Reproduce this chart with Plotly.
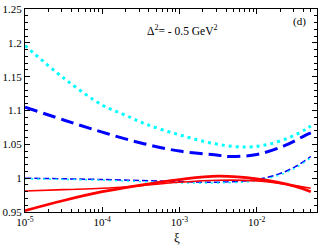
import plotly.graph_objects as go

# log10(xi) sample points
logxi_dotted = [-5.0, -4.5, -4.0, -3.72, -3.44, -3.0, -2.55, -2.15, -1.85, -1.56, -1.37, -1.30]
cyan_dotted = [1.196, 1.148, 1.108, 1.094, 1.080, 1.064, 1.051, 1.046, 1.050, 1.061, 1.072, 1.077]

logxi_long = [-5.0, -4.5, -4.0, -3.5, -3.0, -2.5, -2.36, -2.0, -1.64, -1.36, -1.30]
blue_long = [1.105, 1.086, 1.068, 1.052, 1.040, 1.034, 1.032, 1.035, 1.048, 1.064, 1.067]

logxi_short = [-5.0, -4.0, -3.0, -2.5, -2.0, -1.72, -1.5, -1.3]
blue_short = [1.000, 0.998, 0.995, 0.994, 0.998, 1.006, 1.017, 1.032]
cyan_dashdot = [0.999, 0.997, 0.993, 0.993, 0.996, 1.004, 1.015, 1.030]

logxi_red = [-5.0, -4.5, -4.0, -3.6, -3.0, -2.5, -2.0, -1.5, -1.3]
red_thick = [0.952, 0.967, 0.980, 0.988, 0.998, 1.003, 0.999, 0.988, 0.980]
red_thin = [0.981, 0.983, 0.985, 0.988, 0.994, 0.997, 0.996, 0.989, 0.985]

x_ticks = [1e-5, 1e-4, 1e-3, 1e-2]
x_ticklabels = ["10<sup>-5</sup>", "10<sup>-4</sup>", "10<sup>-3</sup>", "10<sup>-2</sup>"]
y_ticks = [0.95, 1.0, 1.05, 1.1, 1.15, 1.2, 1.25]
y_ticklabels = ["0.95", "1", "1.05", "1.1", "1.15", "1.2", "1.25"]

def tx(lx):
    return [10 ** v for v in lx]

fig = go.Figure()
fig.add_trace(go.Scatter(x=tx(logxi_dotted), y=cyan_dotted, mode="lines", line_shape="spline",
                         line=dict(color="#00FFFF", width=3, dash="3px,4px")))
fig.add_trace(go.Scatter(x=tx(logxi_long), y=blue_long, mode="lines", line_shape="spline",
                         line=dict(color="#0000FF", width=3, dash="13px,6px")))
fig.add_trace(go.Scatter(x=tx(logxi_short), y=blue_short, mode="lines", line_shape="spline",
                         line=dict(color="#0000FF", width=1.5, dash="6px,3px")))
fig.add_trace(go.Scatter(x=tx(logxi_short), y=cyan_dashdot, mode="lines", line_shape="spline",
                         line=dict(color="#00FFFF", width=1.5, dash="2px,4px")))
fig.add_trace(go.Scatter(x=tx(logxi_red), y=red_thin, mode="lines", line_shape="spline",
                         line=dict(color="#FF0000", width=1.6)))
fig.add_trace(go.Scatter(x=tx(logxi_red), y=red_thick, mode="lines", line_shape="spline",
                         line=dict(color="#FF0000", width=2.8)))

font = "Liberation Serif, Times New Roman, serif"
minor_x = []
for d in range(-5, -1):
    for k in range(2, 10):
        v = k * 10 ** d
        if v <= 0.06:
            minor_x.append(v)

fig.update_layout(
    width=321, height=245,
    margin=dict(l=22, r=3, t=5, b=33),
    paper_bgcolor="white", plot_bgcolor="white",
    showlegend=False,
    font=dict(family=font, size=11, color="black"),
    xaxis=dict(type="log", range=[-5, -1.22], tickvals=x_ticks, ticktext=x_ticklabels,
               ticks="inside", ticklen=5, tickcolor="black", showgrid=False, zeroline=False,
               showline=True, linecolor="black", linewidth=1, mirror="ticks",
               tickfont=dict(family=font, size=11), ticklabeloverflow="allow",
               minor=dict(tickvals=minor_x, ticks="inside", ticklen=3, tickcolor="black", showgrid=False)),
    yaxis=dict(range=[0.95, 1.25], tickvals=y_ticks, ticktext=y_ticklabels,
               ticks="inside", ticklen=5, tickcolor="black", showgrid=False, zeroline=False,
               showline=True, linecolor="black", linewidth=1, mirror="ticks",
               tickfont=dict(family=font, size=11), ticklabeloverflow="allow",
               minor=dict(dtick=0.01, ticks="inside", ticklen=3, tickcolor="black", showgrid=False)),
    annotations=[
        dict(text="Δ<sup>2</sup>= - 0.5 GeV<sup>2</sup>", xref="paper", yref="paper",
             x=0.41, y=0.895, xanchor="left", yanchor="middle", showarrow=False,
             font=dict(family=font, size=11.5)),
        dict(text="(d)", xref="paper", yref="paper", x=0.94, y=0.94, xanchor="center",
             yanchor="middle", showarrow=False, font=dict(family=font, size=11)),
        dict(text="ξ", xref="paper", yref="paper", x=0.52, y=-0.125, xanchor="center",
             yanchor="middle", showarrow=False, font=dict(family=font, size=13)),
    ],
)

fig.write_html("out.html", config={"displayModeBar": False},
               post_script="document.body.style.margin='0';document.body.style.overflow='hidden';")
